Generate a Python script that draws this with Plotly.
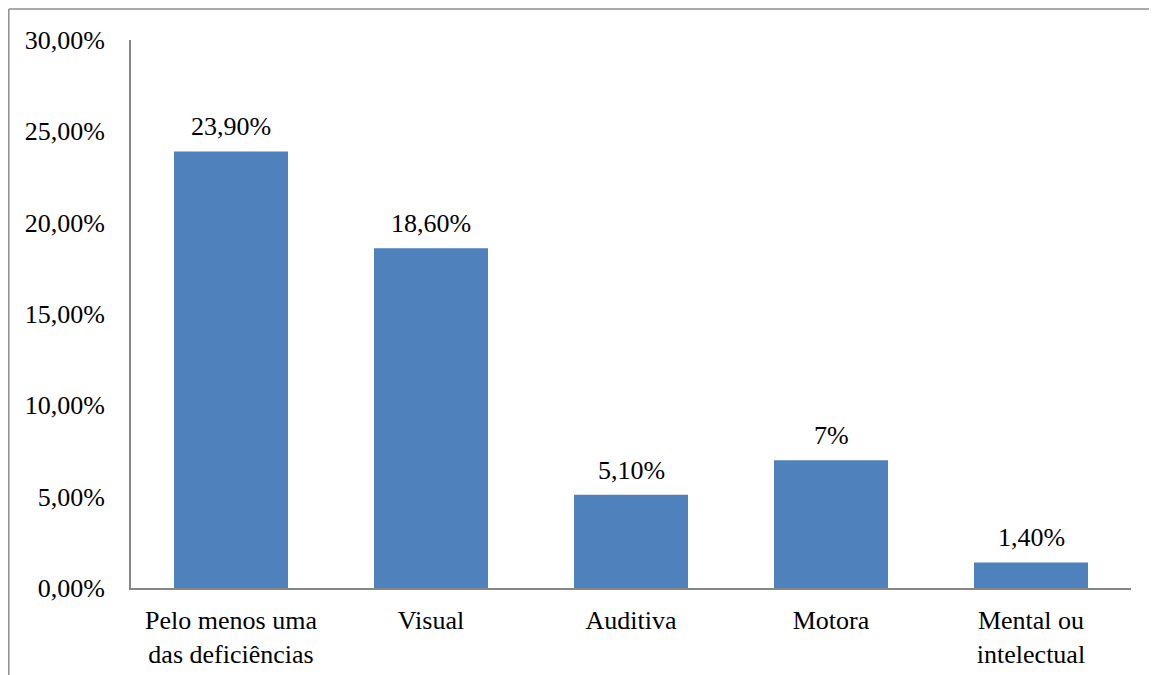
import plotly.graph_objects as go

categories = ["Pelo menos uma<br>das deficiências", "Visual", "Auditiva", "Motora", "Mental ou<br>intelectual"]
values = [23.9, 18.6, 5.1, 7.0, 1.4]
value_labels = ["23,90%", "18,60%", "5,10%", "7%", "1,40%"]

FONT = "Liberation Serif, Times New Roman, serif"
FS = 26

fig = go.Figure(go.Bar(
    x=categories, y=values,
    marker=dict(color="#4F81BD", line=dict(width=0)),
    hoverinfo="skip",
))

for c, v, t in zip(categories, values, value_labels):
    fig.add_annotation(x=c, y=v, text=t, showarrow=False, yanchor="bottom",
                       yshift=8, font=dict(family=FONT, size=FS, color="black"))

fig.update_layout(
    width=1149, height=667,
    margin=dict(l=123, r=26, t=32, b=87),
    paper_bgcolor="white", plot_bgcolor="white",
    separators=",.",
    bargap=0.43,
    showlegend=False,
    font=dict(family=FONT, size=FS, color="black"),
    xaxis=dict(showline=True, linecolor="#868686", linewidth=2, ticks="",
               showgrid=False, tickfont=dict(size=FS), ticklabelstandoff=8,
               automargin=False, fixedrange=True),
    yaxis=dict(range=[0, 30], dtick=5, tickformat=".2f", ticksuffix="%",
               showline=True, linecolor="#868686", linewidth=2, ticks="",
               showgrid=False, zeroline=False, ticklabelstandoff=19,
               automargin=False, tickfont=dict(size=FS), fixedrange=True),
    shapes=[
        dict(type="line", xref="paper", yref="paper", x0=-0.1222, x1=1.03,
             y0=1.0565, y1=1.0565, line=dict(color="#8c8c8c", width=1.5)),
        dict(type="line", xref="paper", yref="paper", x0=-0.1222, x1=-0.1222,
             y0=1.0565, y1=-0.17, line=dict(color="#8c8c8c", width=1.5)),
    ],
)

fig.write_html("out.html")
